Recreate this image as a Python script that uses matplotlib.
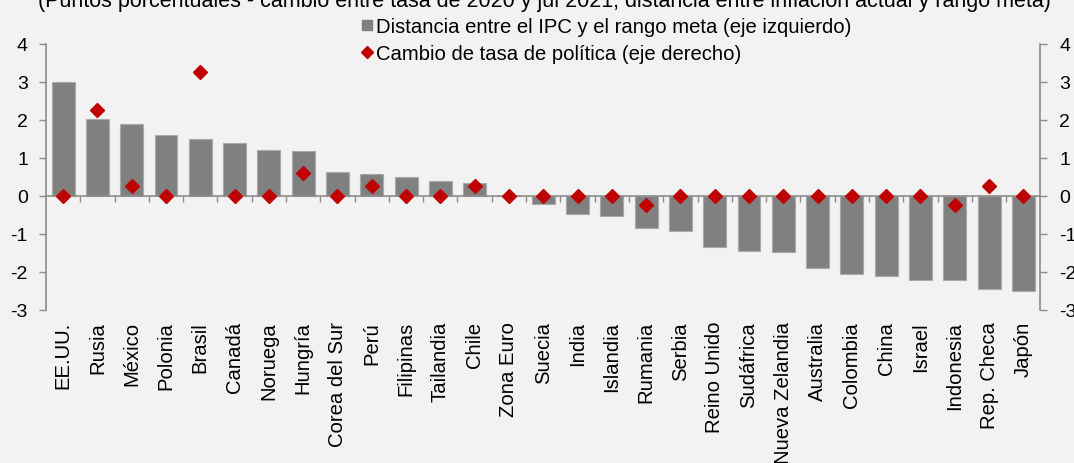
import numpy as np
import matplotlib.pyplot as plt
from matplotlib.lines import Line2D

plt.rcParams['font.family'] = ['Liberation Sans', 'DejaVu Sans']
plt.rcParams['axes.unicode_minus'] = False

paises = ['EE.UU.', 'Rusia', 'México', 'Polonia', 'Brasil', 'Canadá', 'Noruega',
          'Hungría', 'Corea del Sur', 'Perú', 'Filipinas', 'Tailandia', 'Chile',
          'Zona Euro', 'Suecia', 'India', 'Islandia', 'Rumania', 'Serbia',
          'Reino Unido', 'Sudáfrica', 'Nueva Zelandia', 'Australia', 'Colombia',
          'China', 'Israel', 'Indonesia', 'Rep. Checa', 'Japón']

# distancia entre IPC y rango meta (eje izquierdo)
distancia = [3.0, 2.02, 1.89, 1.6, 1.5, 1.38, 1.2, 1.17, 0.62, 0.58, 0.49, 0.39,
             0.33, 0.0, -0.23, -0.48, -0.53, -0.86, -0.92, -1.34, -1.46, -1.49,
             -1.9, -2.06, -2.1, -2.21, -2.21, -2.44, -2.5]

# cambio de tasa de politica 2020 - jul 2021 (eje derecho)
cambio_tasa = [0.0, 2.25, 0.25, 0.0, 3.25, 0.0, 0.0, 0.6, 0.0, 0.25, 0.0, 0.0,
               0.25, 0.0, 0.0, 0.0, 0.0, -0.25, 0.0, 0.0, 0.0, 0.0, 0.0, 0.0,
               0.0, 0.0, -0.25, 0.25, 0.0]

titulo = ('(Puntos porcentuales - cambio entre tasa de 2020 y jul 2021; '
          'distancia entre inflación actual y rango meta)')
etiquetas = ['Distancia entre el IPC y el rango meta (eje izquierdo)',
             'Cambio de tasa de política (eje derecho)']

BG = '#f2f2f2'
GRIS = '#808080'
ROJO = '#c00000'
EJE = '#8c8c8c'
FS = 14
FS_TXT = 14.6

fig = plt.figure(figsize=(10.74, 4.64), dpi=100, facecolor=BG)
ax = fig.add_axes([0.0428, 0.33, 0.926, 0.574])
ax.set_facecolor(BG)
ax2 = ax.twinx()

x = np.arange(len(paises))
ax.bar(x, distancia, width=0.67, color=GRIS, edgecolor='#a9a9a9', linewidth=0.8, zorder=2)
ax2.plot(x, cambio_tasa, linestyle='none', marker='D', markersize=7.5,
         color=ROJO, markeredgecolor=ROJO, zorder=3)

for a in (ax, ax2):
    a.set_ylim(-3, 4)
    a.set_yticks(range(-3, 5))
    a.set_xlim(-0.5, len(paises) - 0.5)
    a.tick_params(axis='y', length=5, width=1, color=EJE, labelsize=FS)
    a.spines['top'].set_visible(False)

ax.spines['right'].set_visible(False)
ax2.spines['left'].set_visible(False)
ax2.spines['bottom'].set_visible(False)
ax.spines['left'].set_color(EJE)
ax.spines['left'].set_linewidth(1.2)
ax2.spines['right'].set_color(EJE)
ax2.spines['right'].set_linewidth(1.2)
ax.tick_params(axis='y', pad=8)
ax2.tick_params(axis='y', pad=8.5)

# eje de categorias sobre el cero, marcas entre paises
ax.spines['bottom'].set_position(('data', 0))
ax.spines['bottom'].set_color(EJE)
ax.spines['bottom'].set_linewidth(1.2)
ax.spines['bottom'].set_zorder(2.5)
ax.set_xticks(x[:-1] + 0.5)
ax.tick_params(axis='x', length=4, width=1, color=EJE, labelbottom=False)

for i, p in enumerate(paises):
    ax.annotate(p, xy=(i, -3), xycoords='data', xytext=(0, -8),
                textcoords='offset points', rotation=90, ha='center', va='top',
                fontsize=FS_TXT, annotation_clip=False)

fig.text(0.507, 0.985, titulo, ha='center', va='baseline', fontsize=15.5)

handles = [Line2D([], [], linestyle='none', marker='s', markersize=7.5, color=GRIS),
           Line2D([], [], linestyle='none', marker='D', markersize=6.5, color=ROJO)]
fig.legend(handles, etiquetas, loc='upper left', bbox_to_anchor=(0.337, 0.962),
           frameon=False, fontsize=FS_TXT, handlelength=0.5, handletextpad=0.2,
           labelspacing=0.42, borderpad=0, borderaxespad=0)

fig.savefig('out.png', dpi=100, facecolor=BG)
